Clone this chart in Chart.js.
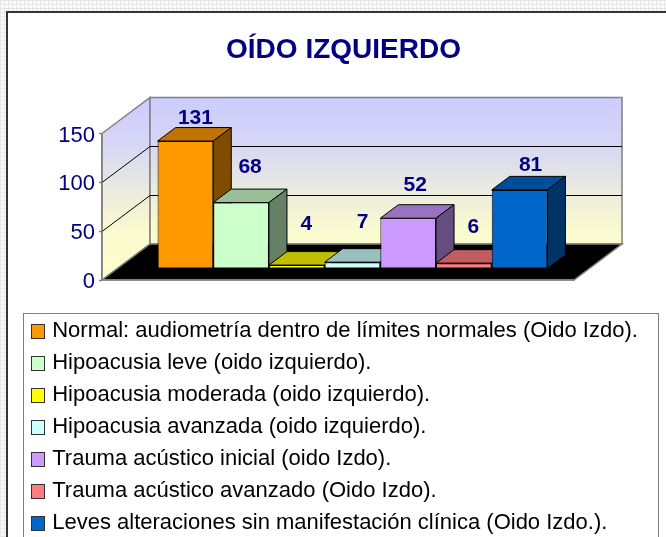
<!DOCTYPE html>
<html>
<head>
<meta charset="utf-8">
<title>Oído izquierdo</title>
<script src="https://cdn.jsdelivr.net/npm/chart.js@4"></script>
<style>
    html, body { margin: 0; height: 537px; overflow: hidden; }
    body {
        background-color: #fbfbfb;
        background-image:
            repeating-linear-gradient(0deg, #e6e6e6 0 1px, transparent 1px 4px),
            repeating-linear-gradient(90deg, #e6e6e6 0 1px, transparent 1px 4px);
    }
    #panel {
        position: absolute; left: 6px; top: 11px; width: 680px; height: 560px;
        background: #fff; border: 2px solid #333; border-right: 0; border-bottom: 0;
    }
    #oidoChart { position: absolute; left: 0; top: 0; }
</style>
</head>
<body>
<div id="panel"></div>
<canvas id="oidoChart" width="666" height="570"></canvas>
<script>
const categories = ['Oído izquierdo'];
const seriesNames = [
    'Normal: audiometría dentro de límites normales (Oido Izdo).',
    'Hipoacusia leve (oido izquierdo).',
    'Hipoacusia moderada (oido izquierdo).',
    'Hipoacusia avanzada (oido izquierdo).',
    'Trauma acústico inicial (oido Izdo).',
    'Trauma acústico avanzado (Oido Izdo).',
    'Leves alteraciones sin manifestación clínica (Oido Izdo.).'
];
const seriesValues = [131, 68, 4, 7, 52, 6, 81];
const seriesColors = ['#FF9900', '#CCFFCC', '#FFFF00', '#CCFFFF', '#CC99FF', '#FF7C80', '#0066CC'];
const yTicks = [0, 50, 100, 150];

const NAVY = '#000080';
const wallDepth = { x: 48, y: -36 };
const barShift = { x: 14.5, y: -11 };
const barDepth = { x: 18, y: -13.5 };
// where Excel left each value label, measured from the bar's top centre
const labelShiftX = [10, 9, 9.5, 10, 7, 9.5, 11];
const labelLift = [23, 35, 41, 40, 33, 36, 25];

function shade(hex, factor) {
    const n = parseInt(hex.slice(1), 16);
    const r = Math.round((n >> 16) * factor);
    const g = Math.round(((n >> 8) & 255) * factor);
    const b = Math.round((n & 255) * factor);
    return `rgb(${r}, ${g}, ${b})`;
}

function poly(ctx, points, fill, stroke, width) {
    ctx.beginPath();
    points.forEach((p, i) => i ? ctx.lineTo(p[0], p[1]) : ctx.moveTo(p[0], p[1]));
    ctx.closePath();
    if (fill) {
        ctx.fillStyle = fill;
        ctx.fill();
    }
    if (stroke) {
        ctx.strokeStyle = stroke;
        ctx.lineWidth = width || 1;
        ctx.stroke();
    }
}

const box3d = {
    id: 'box3d',
    afterLayout(chart) {
        // title sits a little right of the plot centre in the original
        chart.titleBlock.left += 5.5;
        chart.titleBlock.right += 5.5;
        // the legend clips to its box, and the first row is wider than the plot
        chart.legend.right = 660;
    },
    beforeDraw(chart) {
        const ctx = chart.ctx;
        const { left, right, top, bottom } = chart.chartArea;
        const y = chart.scales.y;
        const dx = wallDepth.x, dy = wallDepth.y;

        // legend frame, open at the bottom because the page cuts it off
        ctx.save();
        ctx.strokeStyle = '#808080';
        ctx.lineWidth = 1;
        ctx.strokeRect(23.5, chart.legend.top + 3.5, 635, 300);
        ctx.restore();

        const wall = ctx.createLinearGradient(0, top + dy, 0, bottom);
        wall.addColorStop(0, '#CCCCFF');
        wall.addColorStop(0.25, '#D6D6F6');
        wall.addColorStop(0.5, '#EAEAE0');
        wall.addColorStop(0.72, '#FAFAD0');
        wall.addColorStop(1, '#FFFFCC');

        poly(ctx, [[left, top], [left + dx, top + dy], [left + dx, bottom + dy], [left, bottom]], wall, '#808080', 1.5);
        poly(ctx, [[left + dx, top + dy], [right + dx, top + dy], [right + dx, bottom + dy], [left + dx, bottom + dy]], wall, '#808080', 1.5);
        poly(ctx, [[left, bottom], [left + dx, bottom + dy], [right + dx, bottom + dy], [right, bottom]], '#000', '#808080', 1.5);

        ctx.strokeStyle = '#000';
        ctx.lineWidth = 1;
        yTicks.slice(1, -1).forEach(v => {
            const py = Math.round(y.getPixelForValue(v)) + 0.5;
            ctx.beginPath();
            ctx.moveTo(left, py);
            ctx.lineTo(left + dx, py + dy);
            ctx.lineTo(right + dx, py + dy);
            ctx.stroke();
        });
    },
    beforeDatasetsDraw(chart) {
        const ctx = chart.ctx;
        ctx.save();
        ctx.translate(barShift.x, barShift.y);
        const dx = barDepth.x, dy = barDepth.y;
        // tops and sides go left to right, the library paints the fronts over them
        chart.data.datasets.forEach((ds, i) => {
            const bar = chart.getDatasetMeta(i).data[0];
            const l = bar.x - bar.width / 2, r = bar.x + bar.width / 2;
            poly(ctx, [[l, bar.y], [l + dx, bar.y + dy], [r + dx, bar.y + dy], [r, bar.y]], shade(seriesColors[i], 0.75), '#000');
            poly(ctx, [[r, bar.y], [r + dx, bar.y + dy], [r + dx, bar.base + dy], [r, bar.base]], shade(seriesColors[i], 0.5), '#000');
        });
    },
    afterDatasetsDraw(chart) {
        const ctx = chart.ctx;
        ctx.font = 'bold 21px "Liberation Sans", Arial, sans-serif';
        ctx.fillStyle = NAVY;
        ctx.textAlign = 'center';
        ctx.textBaseline = 'middle';
        chart.data.datasets.forEach((ds, i) => {
            const bar = chart.getDatasetMeta(i).data[0];
            ctx.fillText(ds.data[0], bar.x + labelShiftX[i], bar.y - labelLift[i]);
        });
        ctx.restore();
    },
    afterDraw(chart) {
        // the swatches are wider than the gap the legend leaves before its text
        const ctx = chart.ctx;
        chart.legend.legendHitBoxes.forEach((hit, i) => {
            const cy = hit.top + hit.height / 2;
            ctx.fillStyle = seriesColors[i];
            ctx.strokeStyle = '#333';
            ctx.lineWidth = 1;
            ctx.fillRect(31.5, cy - 6.5, 13, 14);
            ctx.strokeRect(31.5, cy - 6.5, 13, 14);
        });
    }
};

new Chart(document.getElementById('oidoChart'), {
    type: 'bar',
    data: {
        labels: categories,
        datasets: seriesNames.map((name, i) => ({
            label: name,
            data: [seriesValues[i]],
            backgroundColor: seriesColors[i],
            borderColor: '#000',
            borderWidth: 1,
            borderSkipped: false,
            categoryPercentage: 0.826,
            barPercentage: 1,
            clip: false
        }))
    },
    options: {
        responsive: false,
        animation: false,
        layout: { padding: { left: 21.5, right: 92, top: 35, bottom: 26 } },
        plugins: {
            tooltip: { enabled: false },
            title: {
                display: true,
                text: 'OÍDO IZQUIERDO',
                fullSize: false,
                color: NAVY,
                font: { family: '"Liberation Sans", Arial, sans-serif', size: 28, weight: 'bold', lineHeight: 1.1 },
                padding: { top: 0, bottom: 67.7 }
            },
            legend: {
                position: 'bottom',
                align: 'start',
                labels: {
                    color: '#000',
                    boxWidth: 9.7,
                    boxHeight: 13,
                    padding: 10,
                    font: { family: '"Liberation Sans", Arial, sans-serif', size: 22, lineHeight: 1 }
                }
            }
        },
        scales: {
            x: {
                ticks: { display: false },
                grid: { display: false },
                border: { color: '#808080', width: 1.5 },
                afterFit(scale) { scale.height = 30; }
            },
            y: {
                min: 0,
                max: 150,
                afterBuildTicks(scale) { scale.ticks = yTicks.map(v => ({ value: v })); },
                ticks: {
                    color: NAVY,
                    padding: 4,
                    labelOffset: 2,
                    font: { family: '"Liberation Sans", Arial, sans-serif', size: 22 }
                },
                grid: { drawOnChartArea: false, tickLength: 3, tickColor: '#808080', tickWidth: 1.5 },
                border: { color: '#808080', width: 1.5 },
                afterFit(scale) { scale.width = 80.5; }
            }
        }
    },
    plugins: [box3d]
});
</script>
</body>
</html>
